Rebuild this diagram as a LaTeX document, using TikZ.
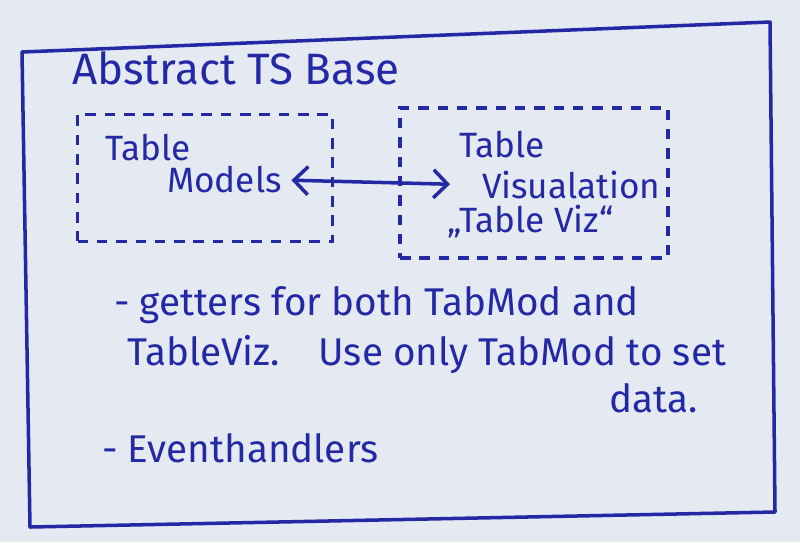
\documentclass[tikz,border=0pt]{standalone}
\usepackage{fontspec}
\setmainfont{Fira Sans}
\usetikzlibrary{positioning, arrows.meta}
\definecolor{inkblue}{RGB}{35,40,165}
\definecolor{paper}{RGB}{229,233,242}

\begin{document}
\begin{tikzpicture}[
    x=0.02cm, y=-0.02cm,
    ink/.style={draw=inkblue, line width=2pt, line cap=round, line join=round},
    part/.style={rectangle, draw=inkblue, line width=2.2pt, dash pattern=on 6pt off 5pt},
    label/.style={text=inkblue, font=\fontsize{20}{22}\selectfont, inner sep=1pt, anchor=west},
    note/.style={label, font=\fontsize{22}{24}\selectfont},
    arrow/.style={{Straight Barb[length=8pt,width=16pt]}-{Straight Barb[length=8pt,width=16pt]}, ink}
]
    % Paper
    \fill[paper] (0,0) rectangle (800,542);
    \useasboundingbox (0,0) rectangle (800,542);

    % Outer frame
    \coordinate (nw) at (22,52);
    \coordinate (ne) at (770,22);
    \coordinate (se) at (775,512);
    \coordinate (sw) at (30,527);
    \draw[ink] (nw) -- (ne) -- (se) -- (sw) -- cycle;

    % Title
    \node[label, font=\fontsize{25}{27}\selectfont] (title) at (70,68) {Abstract TS Base};

    % Table models
    \node[part, minimum width=5.1cm, minimum height=2.54cm] (models) at (205,178) {};
    \node[label] (modtab) at (103,148) {Table};
    \node[label] (modname) at (165,180) {Models};

    % Table visualisation
    \node[part, minimum width=5.36cm, minimum height=3cm] (viz) at (534,183) {};
    \node[label] (viztab) at (457,145) {Table};
    \node[label] (vizname) at (480,185) {Visualation};
    \node[label] (vizalias) at (445,222) {„Table Viz“};

    % Arrows
    \draw[arrow, shorten <=0.15cm, shorten >=0.6cm] (modname.east) -- (vizname.west);

    % Notes
    \node[note] (getters) at (112,305) {- getters for both TabMod and};
    \node[note] (tableviz) at (125,355) {TableViz.\quad Use only TabMod to set};
    \node[note, anchor=east] (data) at (700,398) {data.};
    \node[note] (events) at (100,448) {- Eventhandlers};
\end{tikzpicture}
\end{document}
